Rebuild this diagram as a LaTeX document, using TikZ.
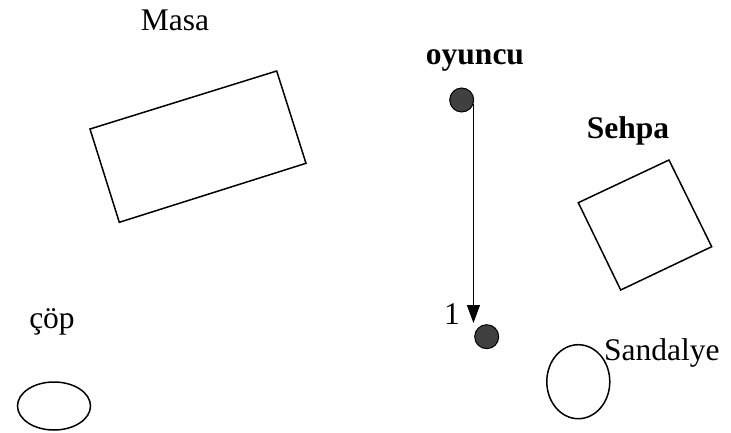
\documentclass[tikz,border=0pt]{standalone}
\usepackage{fontspec}
\setmainfont{Liberation Serif}
\usetikzlibrary{arrows.meta,shapes.geometric}
\begin{document}
\begin{tikzpicture}[x=1pt,y=-1pt,
  lbl/.style={font=\fontsize{31.5}{34}\selectfont, inner sep=0pt},
  blbl/.style={lbl, font=\fontsize{31.5}{34}\selectfont\bfseries},
  outline/.style={draw=black, line width=1.5pt},
  dot/.style={circle, draw=black, line width=1pt, fill=black!75, minimum size=24pt, inner sep=0pt},
  arr/.style={line width=1.3pt, -{Triangle[width=13pt,length=18pt]}}]
\useasboundingbox (0,0) rectangle (731,433);
% furniture
\draw[outline] (90,129) -- (276.7,71) -- (306,163.3) -- (119.3,222.3) -- cycle;
\draw[outline] (578.3,202.7) -- (669,160) -- (711.7,246.7) -- (620.7,290) -- cycle;
\node[ellipse, outline, minimum width=63pt, minimum height=74pt, inner sep=0pt] (chair) at (578.3,381.7) {};
\node[ellipse, outline, minimum width=73pt, minimum height=48pt, inner sep=0pt] (bin) at (54,406) {};
% labels
\node[lbl] (masa) at (175,20) {Masa};
\node[blbl] (oy) at (475,60) {oyuncu};
\node[blbl] (sehpa) at (628,131) {Sehpa};
\node[lbl] (one) at (452,314) {1};
\node[lbl] (cop) at (52,322) {çöp};
\node[lbl, anchor=west] (sand) at (604,353) {Sandalye};
% player
\node[dot] (p0) at (461.7,100) {};
\node[dot] (p1) at (486.7,336.7) {};
\coordinate (tip) at (474,323);
\draw[arr] (p0.-20) -- (p0.-20 |- tip);
\end{tikzpicture}
\end{document}
